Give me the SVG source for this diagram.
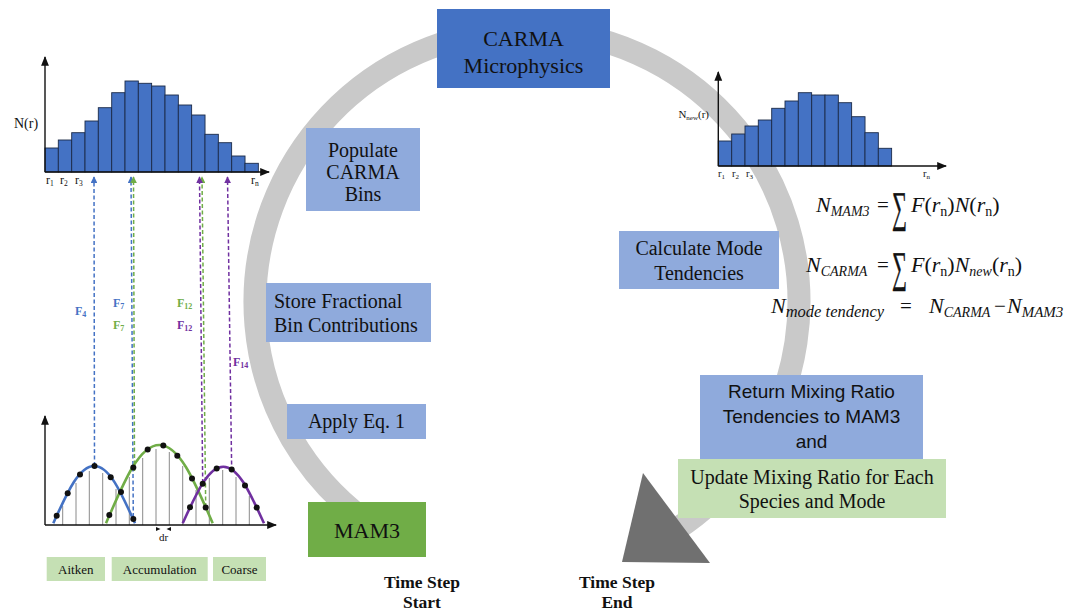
<svg xmlns="http://www.w3.org/2000/svg" width="1086" height="612" viewBox="0 0 1086 612">
  <defs>
    <style>
      .serif { font-family: "Liberation Serif", "Times New Roman", serif; fill: #111; }
      .sans { font-family: "Liberation Sans", Arial, sans-serif; fill: #111; }
      .box-dark { fill: #4472c4; }
      .box-light { fill: #8faadc; }
      .box-green { fill: #70ad47; }
      .box-pale { fill: #c5e0b4; }
      .bar { fill: #4472c4; stroke: #1b2a48; stroke-width: 0.9; }
      .axis { stroke: #111; stroke-width: 1.4; fill: none; }
      .bin { stroke: #8a8a8a; stroke-width: 1; }
      .dash { stroke-width: 1.5; stroke-dasharray: 4 2.5; fill: none; }
      .curve { stroke-width: 2.6; fill: none; }
      .dot { fill: #111; }
      .flab { font-family: "Liberation Serif", "Times New Roman", serif; font-weight: bold; font-size: 12px; }
      .math { font-family: "Liberation Serif", "Times New Roman", serif; font-style: italic; fill: #111; }
      .up { font-style: normal; }
      .sum { stroke: #111; stroke-width: 0.35; }
    </style>
    <marker id="ax" viewBox="0 0 10 10" refX="9" refY="5" markerWidth="7" markerHeight="7" orient="auto">
      <path d="M0,1 L10,5 L0,9 z" fill="#111"/>
    </marker>
    <marker id="hb" viewBox="0 0 10 10" refX="9" refY="5" markerWidth="4.5" markerHeight="4.5" orient="auto">
      <path d="M0,0 L10,5 L0,10 z" fill="#4472c4"/>
    </marker>
    <marker id="hg" viewBox="0 0 10 10" refX="9" refY="5" markerWidth="4.5" markerHeight="4.5" orient="auto">
      <path d="M0,0 L10,5 L0,10 z" fill="#70ad47"/>
    </marker>
    <marker id="hp" viewBox="0 0 10 10" refX="9" refY="5" markerWidth="4.5" markerHeight="4.5" orient="auto">
      <path d="M0,0 L10,5 L0,10 z" fill="#7030a0"/>
    </marker>
  </defs>

  <rect width="1086" height="612" fill="#ffffff"/>

  <!-- cycle ring and its end arrowhead -->
  <g id="connectors">
    <path id="cycle-ring" d="M364.3,520 A272,272 0 1 1 675.3,530" fill="none" stroke="#c9c9c9" stroke-width="23"/>
    <polygon id="cycle-head" points="643,473 710,563 622,562" fill="#707070"/>
  </g>

  <!-- initial size distribution -->
  <g id="hist-initial">
    <rect class="bar" x="45" y="148" width="13.33" height="24"/>
    <rect class="bar" x="58.3" y="140" width="13.33" height="32"/>
    <rect class="bar" x="71.7" y="132.7" width="13.33" height="39.3"/>
    <rect class="bar" x="85" y="121" width="13.33" height="51"/>
    <rect class="bar" x="98.3" y="107.7" width="13.33" height="64.3"/>
    <rect class="bar" x="111.7" y="92.7" width="13.33" height="79.3"/>
    <rect class="bar" x="125" y="81" width="13.33" height="91"/>
    <rect class="bar" x="138.3" y="83.3" width="13.33" height="88.7"/>
    <rect class="bar" x="151.7" y="86" width="13.33" height="86"/>
    <rect class="bar" x="165" y="95" width="13.33" height="77"/>
    <rect class="bar" x="178.3" y="105" width="13.33" height="67"/>
    <rect class="bar" x="191.7" y="115" width="13.33" height="57"/>
    <rect class="bar" x="205" y="134.3" width="13.33" height="37.7"/>
    <rect class="bar" x="218.3" y="142.7" width="13.33" height="29.3"/>
    <rect class="bar" x="231.7" y="156" width="13.33" height="16"/>
    <rect class="bar" x="245" y="163.3" width="13.33" height="8.7"/>
    <path class="axis" d="M45,172 L45,57" marker-end="url(#ax)"/>
    <path class="axis" d="M45,172 L269,172" marker-end="url(#ax)"/>
    <text class="serif" x="14" y="128" font-size="14">N(r)</text>
    <text class="serif" font-size="12" y="184"><tspan x="46">r</tspan><tspan font-size="7.5" dy="2">1</tspan><tspan x="60" dy="-2">r</tspan><tspan font-size="7.5" dy="2">2</tspan><tspan x="75" dy="-2">r</tspan><tspan font-size="7.5" dy="2">3</tspan><tspan x="251" dy="-2">r</tspan><tspan font-size="7.5" dy="2">n</tspan></text>
  </g>

  <!-- bin mapping from modes to bins -->
  <g id="bin-mapping">
    <path class="dash" stroke="#4472c4" d="M94.5,466 L94,177" marker-end="url(#hb)"/>
    <path class="dash" stroke="#4472c4" d="M133.3,517 L131,177" marker-end="url(#hb)"/>
    <path class="dash" stroke="#70ad47" d="M134.5,471 L133.5,177" marker-end="url(#hg)"/>
    <path class="dash" stroke="#70ad47" d="M205.7,507 L202,177" marker-end="url(#hg)"/>
    <path class="dash" stroke="#7030a0" d="M202.7,483 L199.5,177" marker-end="url(#hp)"/>
    <path class="dash" stroke="#7030a0" d="M231.7,471 L227.5,177" marker-end="url(#hp)"/>
    <text class="flab" fill="#4472c4" x="75" y="315">F<tspan font-size="8" dy="2">4</tspan></text>
    <text class="flab" fill="#4472c4" x="113" y="307">F<tspan font-size="8" dy="2">7</tspan></text>
    <text class="flab" fill="#70ad47" x="113" y="329">F<tspan font-size="8" dy="2">7</tspan></text>
    <text class="flab" fill="#70ad47" x="177" y="307">F<tspan font-size="8" dy="2">12</tspan></text>
    <text class="flab" fill="#7030a0" x="177" y="329">F<tspan font-size="8" dy="2">12</tspan></text>
    <text class="flab" fill="#7030a0" x="233" y="366">F<tspan font-size="8" dy="2">14</tspan></text>
  </g>

  <!-- modal distributions -->
  <g id="modes-plot">
    <line class="bin" x1="62.7" y1="525" x2="62.7" y2="506"/>
    <line class="bin" x1="76" y1="525" x2="76" y2="483"/>
    <line class="bin" x1="89.3" y1="525" x2="89.3" y2="471"/>
    <line class="bin" x1="102.7" y1="525" x2="102.7" y2="473"/>
    <line class="bin" x1="116" y1="525" x2="116" y2="489"/>
    <line class="bin" x1="129.3" y1="525" x2="129.3" y2="477"/>
    <line class="bin" x1="142.7" y1="525" x2="142.7" y2="458"/>
    <line class="bin" x1="156" y1="525" x2="156" y2="449"/>
    <line class="bin" x1="169.3" y1="525" x2="169.3" y2="452"/>
    <line class="bin" x1="182.7" y1="525" x2="182.7" y2="466"/>
    <line class="bin" x1="196" y1="525" x2="196" y2="490"/>
    <line class="bin" x1="209.3" y1="525" x2="209.3" y2="478"/>
    <line class="bin" x1="222.7" y1="525" x2="222.7" y2="470"/>
    <line class="bin" x1="236" y1="525" x2="236" y2="477"/>
    <line class="bin" x1="249.3" y1="525" x2="249.3" y2="496"/>
    <path class="curve" stroke="#4472c4" d="M53.3,523.3 C66.8,493.5 78.6,466 94.2,466 C109.8,466 121.5,493.5 135,523.3"/>
    <path class="curve" stroke="#70ad47" d="M106,523.3 C123.6,482.6 138.9,445 159.3,445 C179.7,445 195.1,482.6 212.7,523.3"/>
    <path class="curve" stroke="#7030a0" d="M182.7,523.3 C196.2,493.9 207.8,466.7 223.3,466.7 C238.8,466.7 250.5,493.9 264,523.3"/>
    <g class="dot">
      <circle cx="56.7" cy="515.8" r="3"/>
      <circle cx="67.7" cy="493.3" r="3"/>
      <circle cx="80" cy="474.4" r="3"/>
      <circle cx="94.5" cy="466" r="3"/>
      <circle cx="110.7" cy="477.2" r="3"/>
      <circle cx="121" cy="492" r="3"/>
      <circle cx="133.3" cy="519" r="3"/>
      <circle cx="109.3" cy="515" r="3"/>
      <circle cx="133.3" cy="467.5" r="3"/>
      <circle cx="147.7" cy="449.5" r="3"/>
      <circle cx="163.3" cy="445.5" r="3"/>
      <circle cx="177.3" cy="455.8" r="3"/>
      <circle cx="192" cy="478.6" r="3"/>
      <circle cx="205.7" cy="507.5" r="3"/>
      <circle cx="190" cy="507.3" r="3"/>
      <circle cx="202.7" cy="483.7" r="3"/>
      <circle cx="216.7" cy="468.5" r="3"/>
      <circle cx="231.7" cy="469.6" r="3"/>
      <circle cx="245" cy="485.4" r="3"/>
      <circle cx="256.7" cy="507.6" r="3"/>
    </g>
    <path class="axis" d="M45,525 L45,416" marker-end="url(#ax)"/>
    <path class="axis" d="M45,525 L276,525" marker-end="url(#ax)"/>
    <path d="M156,527 L160.5,529 L156,531 z M171,527 L166.5,529 L171,531 z" fill="#111"/>
    <text class="serif" x="159" y="541" font-size="11">dr</text>
  </g>

  <!-- mode labels -->
  <g id="mode-aitken">
    <rect class="box-pale" x="46.7" y="557" width="58.3" height="24"/>
    <text class="serif" x="75.8" y="573.5" font-size="13" text-anchor="middle">Aitken</text>
  </g>
  <g id="mode-accumulation">
    <rect class="box-pale" x="111.7" y="557" width="96" height="24"/>
    <text class="serif" x="159.7" y="573.5" font-size="13" text-anchor="middle">Accumulation</text>
  </g>
  <g id="mode-coarse">
    <rect class="box-pale" x="213" y="557" width="53" height="24"/>
    <text class="serif" x="239.5" y="573.5" font-size="13" text-anchor="middle">Coarse</text>
  </g>

  <!-- cycle steps -->
  <g id="carma-microphysics">
    <rect class="box-dark" x="437" y="9" width="173" height="79"/>
    <text class="serif" x="523.5" y="46" font-size="22" text-anchor="middle">CARMA</text>
    <text class="serif" x="523.5" y="73" font-size="22" text-anchor="middle">Microphysics</text>
  </g>
  <g id="populate-bins">
    <rect class="box-light" x="306" y="128" width="114" height="83"/>
    <text class="serif" x="363" y="157" font-size="20" text-anchor="middle">Populate</text>
    <text class="serif" x="363" y="179" font-size="20" text-anchor="middle">CARMA</text>
    <text class="serif" x="363" y="201" font-size="20" text-anchor="middle">Bins</text>
  </g>
  <g id="store-fractions">
    <rect class="box-light" x="266" y="283" width="165" height="59"/>
    <text class="serif" x="274" y="308" font-size="20">Store Fractional</text>
    <text class="serif" x="274" y="332" font-size="20">Bin Contributions</text>
  </g>
  <g id="apply-eq">
    <rect class="box-light" x="287" y="404" width="139" height="35"/>
    <text class="serif" x="356.5" y="428" font-size="20" text-anchor="middle">Apply Eq. 1</text>
  </g>
  <g id="mam3">
    <rect class="box-green" x="308" y="502" width="118" height="55"/>
    <text class="serif" x="367" y="538" font-size="22" text-anchor="middle">MAM3</text>
  </g>
  <g id="calculate-tendencies">
    <rect class="box-light" x="619" y="231" width="160" height="58"/>
    <text class="serif" x="699" y="255" font-size="20" text-anchor="middle">Calculate Mode</text>
    <text class="serif" x="699" y="280" font-size="20" text-anchor="middle">Tendencies</text>
  </g>
  <g id="return-tendencies">
    <rect class="box-light" x="700" y="375" width="223" height="84"/>
    <text class="sans" x="811.5" y="398" font-size="19" text-anchor="middle">Return Mixing Ratio</text>
    <text class="sans" x="811.5" y="423" font-size="19" text-anchor="middle">Tendencies to MAM3</text>
    <text class="sans" x="811.5" y="448" font-size="19" text-anchor="middle">and</text>
  </g>
  <g id="update-mixing">
    <rect class="box-pale" x="678" y="459" width="268" height="59"/>
    <text class="serif" x="812" y="484" font-size="20" text-anchor="middle">Update Mixing Ratio for Each</text>
    <text class="serif" x="812" y="508" font-size="20" text-anchor="middle">Species and Mode</text>
  </g>

  <!-- time step markers -->
  <g id="time-start">
    <text class="serif" x="422" y="588" font-size="17.5" font-weight="bold" text-anchor="middle">Time Step</text>
    <text class="serif" x="422" y="608" font-size="17.5" font-weight="bold" text-anchor="middle">Start</text>
  </g>
  <g id="time-end">
    <text class="serif" x="617" y="588" font-size="17.5" font-weight="bold" text-anchor="middle">Time Step</text>
    <text class="serif" x="617" y="608" font-size="17.5" font-weight="bold" text-anchor="middle">End</text>
  </g>

  <!-- updated size distribution -->
  <g id="hist-updated">
    <rect class="bar" x="718.3" y="141" width="13.33" height="25"/>
    <rect class="bar" x="731.7" y="134" width="13.33" height="32"/>
    <rect class="bar" x="745" y="126" width="13.33" height="40"/>
    <rect class="bar" x="758.3" y="120" width="13.33" height="46"/>
    <rect class="bar" x="771.7" y="108.3" width="13.33" height="57.7"/>
    <rect class="bar" x="785" y="101" width="13.33" height="65"/>
    <rect class="bar" x="798.3" y="92.7" width="13.33" height="73.3"/>
    <rect class="bar" x="811.7" y="95" width="13.33" height="71"/>
    <rect class="bar" x="825" y="95" width="13.33" height="71"/>
    <rect class="bar" x="838.3" y="102.7" width="13.33" height="63.3"/>
    <rect class="bar" x="851.7" y="116.7" width="13.33" height="49.3"/>
    <rect class="bar" x="865" y="132.7" width="13.33" height="33.3"/>
    <rect class="bar" x="878.3" y="148.3" width="13.33" height="17.7"/>
    <path class="axis" d="M718.3,166 L718.3,72" marker-end="url(#ax)"/>
    <path class="axis" d="M718.3,166 L946,166" marker-end="url(#ax)"/>
    <text class="serif" x="709" y="118" font-size="11" text-anchor="end">N<tspan font-size="7" dy="2">new</tspan><tspan dy="-2">(r)</tspan></text>
    <text class="serif" font-size="10.5" y="177"><tspan x="718">r</tspan><tspan font-size="7" dy="2">1</tspan><tspan x="732" dy="-2">r</tspan><tspan font-size="7" dy="2">2</tspan><tspan x="746" dy="-2">r</tspan><tspan font-size="7" dy="2">3</tspan><tspan x="923" dy="-2">r</tspan><tspan font-size="7" dy="2">n</tspan></text>
  </g>

  <!-- tendency equations -->
  <g id="equations">
    <text class="math" x="816" y="212" font-size="22">N<tspan font-size="14" dy="4">MAM3</tspan></text>
    <text class="serif" x="877" y="212" font-size="21">=</text>
    <text class="serif sum" font-size="30" transform="translate(892,222) scale(0.7,1.45)">∑</text>
    <text class="math" x="911" y="212" font-size="22">F<tspan class="up">(</tspan>r<tspan class="up" font-size="14" dy="4">n</tspan><tspan class="up" dy="-4">)</tspan>N<tspan class="up">(</tspan>r<tspan class="up" font-size="14" dy="4">n</tspan><tspan class="up" dy="-4">)</tspan></text>

    <text class="math" x="806" y="272" font-size="22">N<tspan font-size="14" dy="4">CARMA</tspan></text>
    <text class="serif" x="877" y="272" font-size="21">=</text>
    <text class="serif sum" font-size="30" transform="translate(892,282) scale(0.7,1.45)">∑</text>
    <text class="math" x="911" y="272" font-size="22">F<tspan class="up">(</tspan>r<tspan class="up" font-size="14" dy="4">n</tspan><tspan class="up" dy="-4">)</tspan>N<tspan font-size="14" dy="4">new</tspan><tspan class="up" dy="-4">(</tspan>r<tspan class="up" font-size="14" dy="4">n</tspan><tspan class="up" dy="-4">)</tspan></text>

    <text class="math" x="771" y="313" font-size="22">N<tspan font-size="16.5" dy="4">mode tendency</tspan></text>
    <text class="serif" x="900" y="313" font-size="21">=</text>
    <text class="math" x="929" y="313" font-size="22">N<tspan font-size="14" dy="4">CARMA</tspan></text>
    <text class="serif" x="994" y="313" font-size="21">−</text>
    <text class="math" x="1007" y="313" font-size="22">N<tspan font-size="15" dy="4">MAM3</tspan></text>
  </g>
</svg>
